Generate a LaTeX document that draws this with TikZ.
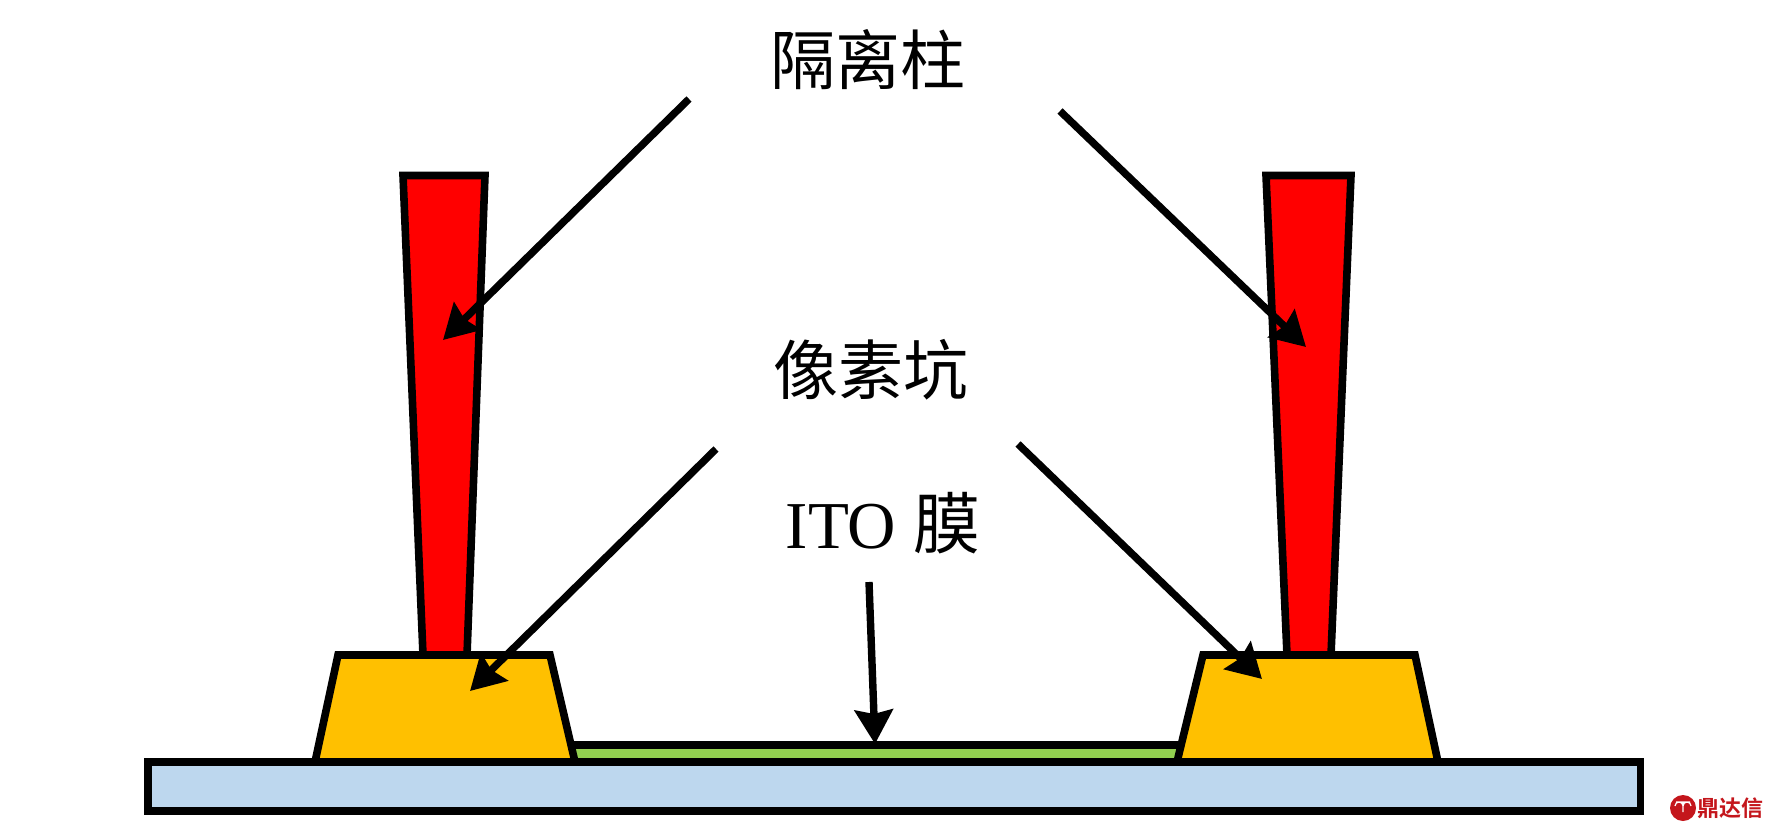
\documentclass[tikz,border=0pt]{standalone}
\usepackage{fontspec}
\setmainfont{Liberation Serif}
\newfontfamily\cjk{Noto Sans CJK SC}
\newfontfamily\cjkb{Noto Sans CJK SC Bold}
\usetikzlibrary{arrows.meta}
\definecolor{pillarred}{HTML}{FF0000}
\definecolor{bankgold}{HTML}{FFC000}
\definecolor{itogreen}{HTML}{92D050}
\definecolor{baseblue}{HTML}{BDD7EE}
\definecolor{markred}{HTML}{C4161C}
\tikzset{
  x=0.5pt,y=-0.5pt,
  layer/.style={draw=black,line width=3.8pt,miter limit=10,line join=miter},
  callout/.style={draw=black,line width=3.7pt,-{Stealth[length=17pt,width=19pt,inset=2pt]}},
  label/.style={inner sep=0pt,font=\fontsize{32.5pt}{34pt}\selectfont},
}
\begin{document}
\begin{tikzpicture}
\useasboundingbox (0,0) rectangle (1772,830);
% pillars
\draw[layer,fill=pillarred] (403,175.5) -- (485,175.5) -- (467,655) -- (423,655) -- cycle;
\draw[layer,fill=pillarred] (1266,175.5) -- (1351,175.5) -- (1331,655) -- (1287,655) -- cycle;
% ITO film
\draw[layer,fill=itogreen] (560,745) -- (1190,745) -- (1190,762) -- (560,762) -- cycle;
% pixel banks
\draw[layer,fill=bankgold] (338,655) -- (550,655) -- (575,762) -- (315,762) -- cycle;
\draw[layer,fill=bankgold] (1203,655) -- (1415,655) -- (1438,762) -- (1177,762) -- cycle;
% substrate
\draw[layer,fill=baseblue] (148,762) rectangle (1640.5,811);
% labels
\node[label,font=\fontsize{32.5pt}{34pt}\selectfont\cjk] (spacer) at (868,60) {隔离柱};
\node[label,font=\fontsize{32.5pt}{34pt}\selectfont\cjk] (bank) at (871,370) {像素坑};
\node[label,font=\fontsize{33.5pt}{35pt}\selectfont] (ito) at (883,523) {ITO {\cjk 膜}};
% arrow ends
\coordinate (a1s) at (689,99);  \coordinate (a1e) at (443,340);
\coordinate (a2s) at (1060,111); \coordinate (a2e) at (1306,347);
\coordinate (a3s) at (716,449); \coordinate (a3e) at (470,691);
\coordinate (a4s) at (1018,444); \coordinate (a4e) at (1262,679);
\coordinate (a5s) at (869,582); \coordinate (a5e) at (875,744);
\draw[callout] (a1s) -- (a1e);
\draw[callout] (a2s) -- (a2e);
\draw[callout] (a3s) -- (a3e);
\draw[callout] (a4s) -- (a4e);
\draw[callout] (a5s) -- (a5e);
% watermark
\node[circle,fill=markred,minimum size=13pt,inner sep=0pt] (logo) at (1683,808) {};
\draw[white,line width=0.6pt] (1676,802) -- (1690,802) (1683,802) -- (1683,812)
  (1675,806) arc[start angle=180,end angle=360,radius=4] (1683,806) arc[start angle=180,end angle=360,radius=4];
\node[inner sep=0pt,text=markred,font=\fontsize{11pt}{12pt}\selectfont\cjkb] (wm) at (1730,808) {鼎达信};
\end{tikzpicture}
\end{document}
